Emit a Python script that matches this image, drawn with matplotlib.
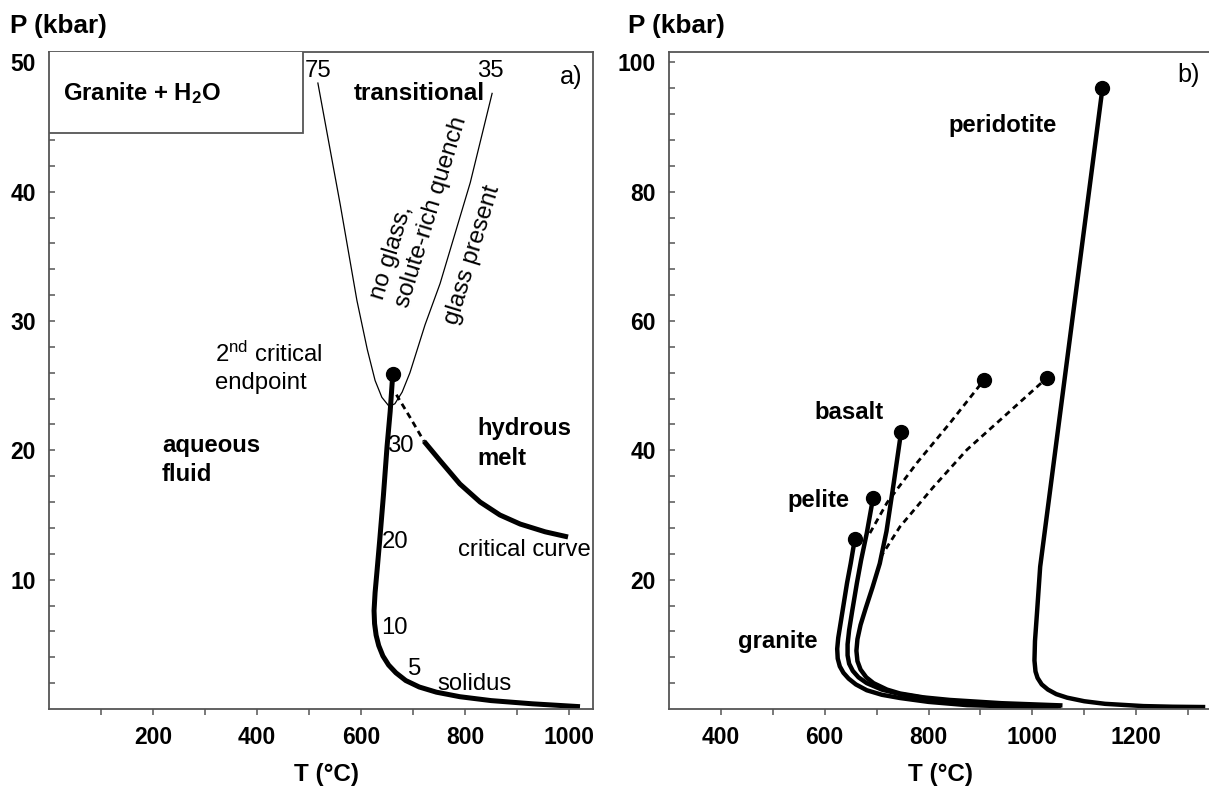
import matplotlib
matplotlib.use("Agg")
import matplotlib.pyplot as plt
from matplotlib.patches import Rectangle

plt.rcParams['font.family'] = ['Liberation Sans', 'DejaVu Sans']
plt.rcParams['mathtext.fontset'] = 'custom'
plt.rcParams['mathtext.rm'] = 'Liberation Sans'
plt.rcParams['mathtext.bf'] = 'Liberation Sans:bold'
plt.rcParams['mathtext.it'] = 'Liberation Sans:italic'

# ---------------- Panel a data (Granite + H2O) ----------------
solidus_T = [661, 656, 650, 643, 636, 631, 627, 625, 626, 629, 634, 642, 653, 667, 686, 712, 745, 790, 850, 930, 1021]
solidus_P = [25.9, 23.0, 20.3, 16.5, 13.1, 10.8, 9.0, 7.6, 6.6, 5.7, 4.9, 4.1, 3.4, 2.8, 2.2, 1.7, 1.3, 0.95, 0.65, 0.4, 0.18]
endpoint_a_T = [661]
endpoint_a_P = [25.9]
critdash_T = [668, 695, 721]
critdash_P = [24.3, 22.5, 20.7]
crit_T = [721, 752, 790, 829, 867, 906, 954, 998]
crit_P = [20.7, 19.2, 17.4, 16.0, 15.0, 14.3, 13.7, 13.3]
vshape_T = [517, 560, 592, 612, 627, 640, 654, 665, 679, 694, 723, 752, 781, 810, 852]
vshape_P = [48.4, 39.0, 31.6, 27.8, 25.4, 24.1, 23.4, 23.6, 24.5, 26.0, 29.7, 32.9, 36.8, 40.7, 47.6]

xticks_a = [200, 400, 600, 800, 1000]
xminor_a = [100, 300, 500, 700, 900]
yticks_a = [10, 20, 30, 40, 50]
yminor_a = [2, 4, 6, 8, 12, 14, 16, 18, 22, 24, 26, 28, 32, 34, 36, 38, 42, 44, 46, 48]

# ---------------- Panel b data (solidi of rock types) ----------------
granite_T = [658, 650, 643, 636, 630, 626, 624, 625, 629, 636, 646, 660, 681, 710, 745, 800, 874, 960, 1050]
granite_P = [26.3, 22.5, 19.5, 16.0, 13.0, 11.0, 9.3, 7.8, 6.6, 5.6, 4.7, 3.8, 2.9, 2.2, 1.7, 1.1, 0.6, 0.4, 0.28]
pelite_T = [693, 681, 670, 662, 653, 647, 644, 644, 647, 654, 665, 681, 710, 745, 800, 874, 960, 1055]
pelite_P = [32.6, 27.2, 23.0, 19.5, 15.2, 12.2, 10.0, 8.3, 7.0, 5.9, 4.9, 4.0, 3.0, 2.3, 1.6, 1.0, 0.65, 0.4]
basalt_T = [747, 733, 719, 706, 692, 679, 669, 663, 661, 663, 669, 680, 694, 720, 745, 790, 841, 940, 1058]
basalt_P = [42.8, 35.0, 27.5, 22.5, 18.8, 15.6, 13.0, 10.8, 9.0, 7.4, 6.1, 4.9, 4.0, 3.0, 2.4, 1.8, 1.4, 0.9, 0.55]
peridotite_T = [1135, 1015, 1009, 1005, 1004, 1006, 1010, 1018, 1030, 1046, 1067, 1100, 1140, 1214, 1270, 1333]
peridotite_P = [96.0, 22.0, 15.0, 10.5, 7.5, 5.8, 4.8, 3.8, 3.0, 2.3, 1.75, 1.2, 0.8, 0.45, 0.35, 0.3]
dash1_T = [687, 720, 778, 841, 907]
dash1_P = [27.2, 31.9, 38.1, 44.2, 50.9]
dash2_T = [707, 745, 809, 874, 938, 1028]
dash2_P = [23.4, 28.2, 34.3, 40.1, 44.7, 51.2]
dots_b_T = [658, 693, 747, 1135, 907, 1028]
dots_b_P = [26.3, 32.6, 42.8, 96.0, 50.9, 51.2]

xticks_b = [400, 600, 800, 1000, 1200]
xminor_b = [500, 700, 900, 1100, 1300]
yticks_b = [20, 40, 60, 80, 100]
yminor_b = [4, 8, 12, 16, 24, 28, 32, 36, 44, 48, 52, 56, 64, 68, 72, 76, 84, 88, 92, 96]

W, H = 1209, 789
fig = plt.figure(figsize=(W / 100, H / 100), dpi=100)

def px_axes(l, r, t, b):
    return [l / W, 1 - b / H, (r - l) / W, (b - t) / H]

ax_a = fig.add_axes(px_axes(49, 593, 52, 709))
ax_b = fig.add_axes(px_axes(669, 1212, 52, 709))

spine_col = '#555555'
FS = 17.2
TFS = 16.5

for ax in (ax_a, ax_b):
    for s in ax.spines.values():
        s.set_color(spine_col)
        s.set_linewidth(1.3)
    ax.tick_params(axis='x', which='both', direction='out', length=4.5, width=1.1,
                   color=spine_col, pad=7.5, labelsize=TFS)
    ax.tick_params(axis='y', which='both', direction='in', length=4, width=1.1,
                   color=spine_col, pad=9.5, labelsize=TFS)

# ---------------- Panel a ----------------
ax = ax_a
ax.set_xlim(0, 1046)
ax.set_ylim(0, 50.8)
ax.set_xticks(xticks_a)
ax.set_xticks(xminor_a, minor=True)
ax.set_yticks(yticks_a)
ax.set_yticks(yminor_a, minor=True)
ax.set_xticklabels([str(v) for v in xticks_a], fontweight='bold')
ax.set_yticklabels([str(v) for v in yticks_a], fontweight='bold')

ax.plot(vshape_T, vshape_P, color='black', lw=0.9)
ax.plot(solidus_T, solidus_P, color='black', lw=3.6, solid_capstyle='butt', solid_joinstyle='round')
ax.plot(critdash_T, critdash_P, color='black', lw=2.0, dashes=(2.2, 1.6))
ax.plot(crit_T, crit_P, color='black', lw=3.6, solid_capstyle='butt', solid_joinstyle='round')
ax.plot(endpoint_a_T, endpoint_a_P, 'o', color='black', ms=10)

ax.add_patch(Rectangle((0, 44.5), 488, 10, facecolor='white', edgecolor=spine_col,
                       lw=1.3, clip_on=True, zorder=3))
ax.text(27, 47.6, r'Granite + H$_{\mathbf{2}}$O', fontsize=FS, fontweight='bold',
        ha='left', va='center', zorder=4)

ax.text(517, 49.3, '75', fontsize=FS, ha='center', va='center')
ax.text(848, 49.3, '35', fontsize=FS, ha='center', va='center')
ax.text(712, 47.6, 'transitional', fontsize=FS + 0.3, fontweight='bold', ha='center', va='center')
ax.text(1004, 48.9, 'a)', fontsize=FS + 1, ha='center', va='center')
ax.text(658, 35.3, 'no glass,', fontsize=FS + 0.3, rotation=73, ha='center', va='center')
ax.text(735, 38.4, 'solute-rich quench', fontsize=FS + 0.3, rotation=73, ha='center', va='center')
ax.text(815, 35.1, 'glass present', fontsize=FS + 0.3, rotation=73, ha='center', va='center')
ax.text(319, 27.4, r'2$^{\mathrm{nd}}$ critical', fontsize=FS, ha='left', va='center')
ax.text(319, 25.2, 'endpoint', fontsize=FS, ha='left', va='center')
ax.text(217, 20.4, 'aqueous', fontsize=FS, fontweight='bold', ha='left', va='center')
ax.text(217, 18.1, 'fluid', fontsize=FS, fontweight='bold', ha='left', va='center')
ax.text(823, 21.7, 'hydrous', fontsize=FS, fontweight='bold', ha='left', va='center')
ax.text(823, 19.4, 'melt', fontsize=FS, fontweight='bold', ha='left', va='center')
ax.text(787, 12.3, 'critical curve', fontsize=FS, ha='left', va='center')
ax.text(747, 1.95, 'solidus', fontsize=FS, ha='left', va='center')
ax.text(675, 20.3, '30', fontsize=FS, ha='center', va='center')
ax.text(665, 12.9, '20', fontsize=FS, ha='center', va='center')
ax.text(664, 6.3, '10', fontsize=FS, ha='center', va='center')
ax.text(703, 3.1, '5', fontsize=FS, ha='center', va='center')

# ---------------- Panel b ----------------
ax = ax_b
ax.set_xlim(300, 1346)
ax.set_ylim(0, 101.6)
ax.set_xticks(xticks_b)
ax.set_xticks(xminor_b, minor=True)
ax.set_yticks(yticks_b)
ax.set_yticks(yminor_b, minor=True)
ax.set_xticklabels([str(v) for v in xticks_b], fontweight='bold')
ax.set_yticklabels([str(v) for v in yticks_b], fontweight='bold')

for T, P in ((granite_T, granite_P), (pelite_T, pelite_P), (basalt_T, basalt_P),
             (peridotite_T, peridotite_P)):
    ax.plot(T, P, color='black', lw=3.2, solid_capstyle='butt', solid_joinstyle='round')
ax.plot(dash1_T, dash1_P, color='black', lw=2.0, dashes=(2.2, 1.6))
ax.plot(dash2_T, dash2_P, color='black', lw=2.0, dashes=(2.2, 1.6))
ax.plot(dots_b_T, dots_b_P, 'o', color='black', ms=10, ls='none')

ax.text(943, 90.3, 'peridotite', fontsize=FS, fontweight='bold', ha='center', va='center')
ax.text(647, 45.8, 'basalt', fontsize=FS, fontweight='bold', ha='center', va='center')
ax.text(589, 32.3, 'pelite', fontsize=FS, fontweight='bold', ha='center', va='center')
ax.text(509, 10.4, 'granite', fontsize=FS, fontweight='bold', ha='center', va='center')
ax.text(1300, 98.1, 'b)', fontsize=FS + 1, ha='center', va='center')

# ---------------- axis titles ----------------
fig.text(10 / W, 1 - 33 / H, 'P (kbar)', fontsize=18.8, fontweight='bold', ha='left', va='baseline')
fig.text(628 / W, 1 - 33 / H, 'P (kbar)', fontsize=18.8, fontweight='bold', ha='left', va='baseline')
fig.text(326 / W, 1 - 775 / H, 'T (°C)', fontsize=17.5, fontweight='bold', ha='center', va='center')
fig.text(941 / W, 1 - 775 / H, 'T (°C)', fontsize=17.5, fontweight='bold', ha='center', va='center')

fig.savefig('out.png', dpi=100, facecolor='white')
